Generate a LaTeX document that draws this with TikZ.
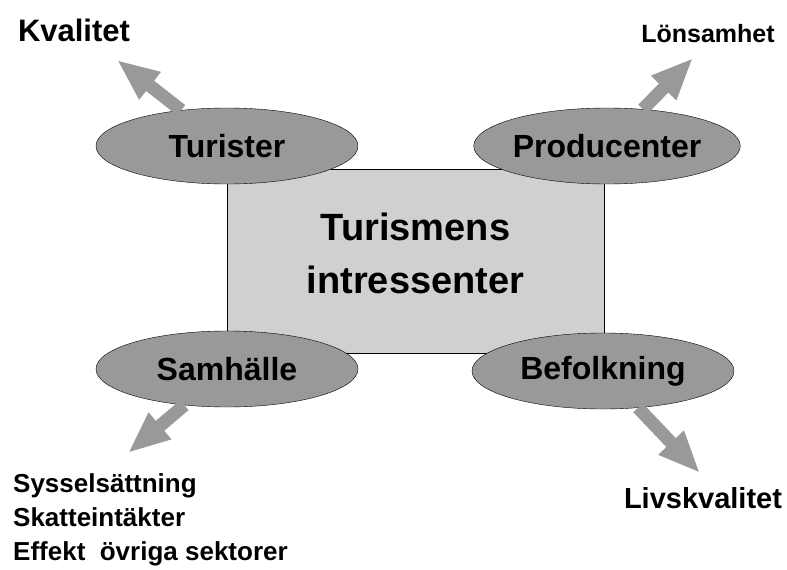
\documentclass[tikz,border=0pt]{standalone}
\usepackage{fontspec}
\setmainfont{Liberation Sans}
\usetikzlibrary{shapes.geometric,arrows.meta}
\definecolor{boxgray}{RGB}{208,208,208}
\definecolor{ovalgray}{RGB}{153,153,153}
\begin{document}
\begin{tikzpicture}[x=1pt,y=-1pt,
  oval/.style={ellipse,draw=black,fill=ovalgray,minimum width=262pt,minimum height=76pt,inner sep=0pt,font=\bfseries\fontsize{32}{38}\selectfont},
  lbl/.style={inner sep=0pt,font=\bfseries\fontsize{#1}{34}\selectfont},
  fat/.style={draw=ovalgray,line width=13pt,-{Triangle[length=42pt,width=32pt]}}]
\useasboundingbox (0,0) rectangle (787,570);
% centre box
\node[draw=black,fill=boxgray,minimum width=377pt,minimum height=184pt,inner sep=0pt] (center) at (415.5,261) {};
\node[inner sep=0pt,align=center,font=\bfseries\fontsize{38}{53}\selectfont] (title)
  at ([yshift=8pt]center) {Turismens\\intressenter};
% the four interest groups
\node[oval] (turister) at (227,146) {Turister};
\node[oval] (producenter) at (607,146) {Producenter};
\node[oval] (samhalle) at (227,369) {Samhälle};
\node[oval] (befolkning) at (603,371) {Befolkning};
% arrow ends
\coordinate (kvtip) at (117,60);
\coordinate (lotip) at (693,58);
\coordinate (satip) at (128,453);
\coordinate (litip) at (700,473);
\draw[fat] (turister) -- (kvtip);
\draw[fat] (producenter) -- (lotip);
\draw[fat] (samhalle) -- (satip);
\draw[fat] (befolkning) -- (litip);
% outcomes
\node[lbl=31,anchor=base] (kvalitet) at (74,41) {Kvalitet};
\node[lbl=25,anchor=base] (lonsamhet) at (708,42) {Lönsamhet};
\node[lbl=29,anchor=base] (livskvalitet) at (703,508) {Livskvalitet};
\node[lbl=26,anchor=north west,align=left] (effekter) at (13,473)
  {Sysselsättning\\Skatteintäkter\\Effekt~~övriga sektorer};
\end{tikzpicture}
\end{document}
